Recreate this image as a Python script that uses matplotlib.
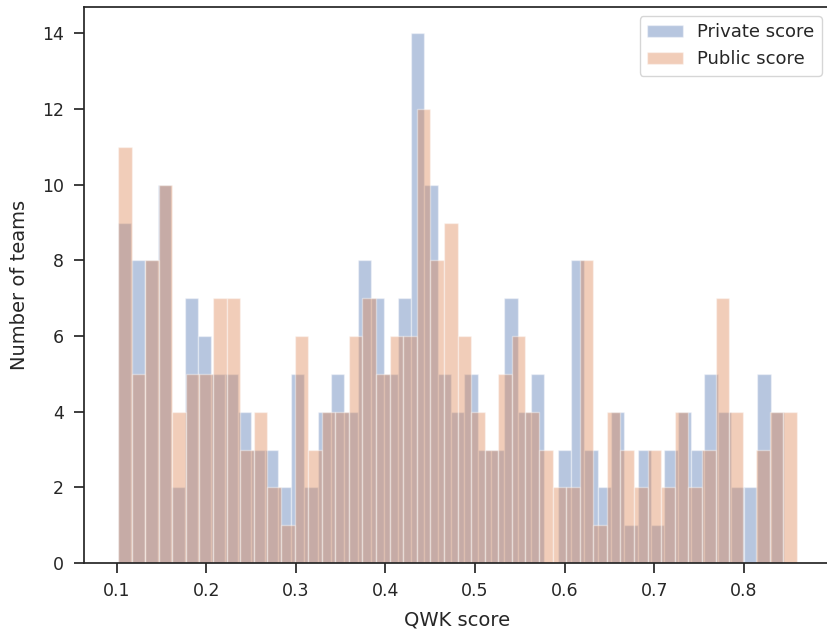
import numpy as np
import matplotlib
matplotlib.use("Agg")
import matplotlib.pyplot as plt
import seaborn as sns

# counts per bin (50 bins each)
private_counts = [9, 8, 8, 10, 2, 7, 6, 5, 5, 4, 3, 3, 2, 5, 2, 4, 5, 4, 8, 7, 5, 7, 14, 10, 5,
                  4, 5, 3, 3, 7, 4, 5, 0, 3, 8, 3, 2, 4, 1, 3, 1, 3, 4, 3, 5, 4, 2, 2, 5, 4]
public_counts = [11, 5, 8, 10, 4, 5, 5, 7, 7, 3, 4, 2, 1, 6, 3, 4, 4, 6, 7, 5, 6, 6, 12, 8, 9,
                 6, 4, 3, 5, 6, 4, 3, 2, 2, 8, 1, 4, 3, 2, 3, 2, 4, 2, 3, 7, 4, 0, 3, 4, 4]

# score ranges of the two leaderboards
private_range = (0.1016, 0.845)
public_range = (0.1016, 0.8594)
n_bins = 50

sns.set_theme(style="ticks", rc={"xtick.labelsize": 12.5, "ytick.labelsize": 12.5,
                                 "axes.labelsize": 14, "legend.fontsize": 13,
                                 "xtick.major.size": 7.5, "ytick.major.size": 7.5,
                                 "xtick.major.pad": 6.5, "ytick.major.pad": 7})

private_edges = np.linspace(*private_range, n_bins + 1)
public_edges = np.linspace(*public_range, n_bins + 1)

fig = plt.figure(figsize=(8.27, 6.32), dpi=100)
ax = fig.add_axes([84 / 827, 69 / 632, 747 / 827, 556 / 632])

ax.hist(private_edges[:-1], bins=private_edges, weights=private_counts,
        alpha=0.4, label="Private score")
ax.hist(public_edges[:-1], bins=public_edges, weights=public_counts,
        alpha=0.4, label="Public score")

ax.set_xlabel("QWK score", labelpad=7)
ax.set_ylabel("Number of teams", labelpad=9)
ax.legend(loc="upper right")

fig.savefig("out.png", dpi=100)
